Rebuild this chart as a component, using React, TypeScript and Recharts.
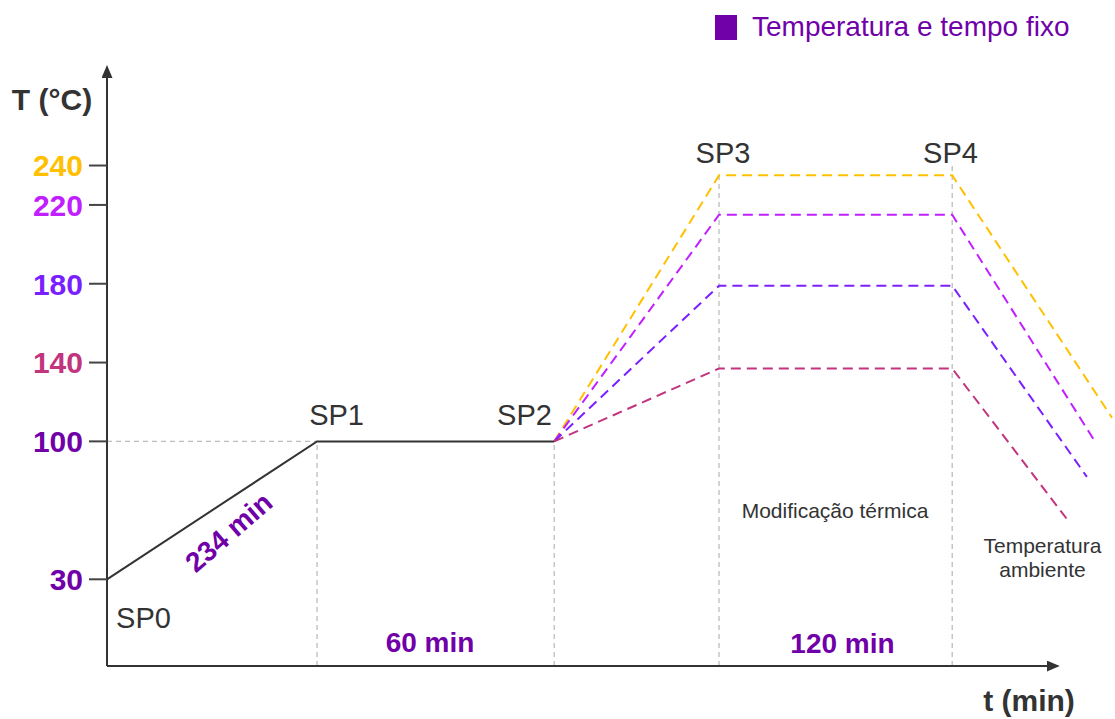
import React from 'react'
import {
  LineChart,
  Line,
  XAxis,
  YAxis,
  ReferenceLine,
  ReferenceDot,
  Legend,
} from 'recharts'

const FONT = '"Liberation Sans", Arial, Helvetica, sans-serif'
const DARK = '#333333'
const FIXED = '#7000A8'

// set-points on the (schematic) time axis
const SP_NAMES = ['SP0', 'SP1', 'SP2', 'SP3', 'SP4']
const SP_X = [0, 20.9, 44.5, 60.9, 84.1]
const BASE_T = [30, 100, 100]

// y axis
const TEMP_TICKS = [30, 100, 140, 180, 220, 240]
const TICK_COLORS = [FIXED, FIXED, '#C2347E', '#7A1FFF', '#C020FF', '#FFC000']

// thermal modification runs (one per target temperature)
const RUN_NAMES = ['240 °C', '220 °C', '180 °C', '140 °C']
const RUN_COLORS = ['#FFC000', '#C020FF', '#7A1FFF', '#C2347E']
const PLATEAU_T = [235, 215, 179, 137]
const END_X = [100, 98.3, 97.5, 95.6]
const END_T = [112, 100, 82, 60]

const baseData = BASE_T.map((t, i) => ({ x: SP_X[i], t }))

const runs = RUN_NAMES.map((name, i) => ({
  name,
  color: RUN_COLORS[i],
  data: [
    { x: SP_X[2], t: BASE_T[2] },
    { x: SP_X[3], t: PLATEAU_T[i] },
    { x: SP_X[4], t: PLATEAU_T[i] },
    { x: END_X[i], t: END_T[i] },
  ],
}))

// text placed in data space (x, t = baseline)
const NOTES = [
  { txt: 'T (°C)', x: -5.47, t: 268.2, fs: 30, fw: 'bold', col: DARK },
  { txt: 't (min)', x: 91.74, t: -36.8, fs: 30, fw: 'bold', col: DARK },
  { txt: SP_NAMES[0], x: 3.63, t: 5.3, fs: 29, fw: 'normal', col: DARK },
  { txt: SP_NAMES[1], x: 22.84, t: 108.3, fs: 29, fw: 'normal', col: DARK },
  { txt: SP_NAMES[2], x: 41.54, t: 108.3, fs: 29, fw: 'normal', col: DARK },
  { txt: SP_NAMES[3], x: 61.29, t: 241.3, fs: 29, fw: 'normal', col: DARK },
  { txt: SP_NAMES[4], x: 83.93, t: 241.3, fs: 29, fw: 'normal', col: DARK },
  { txt: '234 min', x: 12.74, t: 50.2, fs: 28, fw: 'bold', col: FIXED, rot: -41 },
  { txt: '60 min', x: 32.14, t: -6.9, fs: 28, fw: 'bold', col: FIXED },
  { txt: '120 min', x: 73.18, t: -7.4, fs: 28, fw: 'bold', col: FIXED },
  { txt: 'Modificação térmica', x: 72.44, t: 61.1, fs: 21, fw: 'normal', col: DARK },
  { txt: 'Temperatura', x: 93.08, t: 43.35, fs: 21, fw: 'normal', col: DARK },
  { txt: 'ambiente', x: 93.08, t: 31.2, fs: 21, fw: 'normal', col: DARK },
]

const TempTick = ({ x, y, payload, index }: any) => (
  <text
    x={x}
    y={y}
    dy="0.36em"
    textAnchor="end"
    fontFamily={FONT}
    fontSize={30}
    fontWeight="bold"
    fill={TICK_COLORS[index] || DARK}
  >
    {payload.value}
  </text>
)

const NoteLabel = ({ viewBox, txt, fs, fw, col, rot }: any) => {
  const { x, y } = viewBox
  return (
    <text
      x={x}
      y={y}
      textAnchor="middle"
      fontFamily={FONT}
      fontSize={fs}
      fontWeight={fw}
      fill={col}
      transform={rot ? `rotate(${rot} ${x} ${y})` : undefined}
    >
      {txt}
    </text>
  )
}

const LegendBox = () => (
  <div
    style={{
      display: 'flex',
      alignItems: 'center',
      fontFamily: FONT,
      fontSize: 28,
      lineHeight: '32px',
      color: FIXED,
      whiteSpace: 'nowrap',
    }}
  >
    <span
      style={{
        display: 'inline-block',
        width: 22,
        height: 25,
        background: FIXED,
        marginRight: 15,
      }}
    />
    Temperatura e tempo fixo
  </div>
)

const grey = { stroke: '#bdbdbd', strokeWidth: 1.3, strokeDasharray: '5 4' }

export default function App() {
  return (
    <div>
      <style>{'body{margin:0}'}</style>
      <svg width={0} height={0} style={{ position: 'absolute' }}>
        <defs>
          <marker
            id="arrowHead"
            viewBox="0 0 13 11"
            markerWidth={13}
            markerHeight={11}
            refX={11}
            refY={5.5}
            orient="auto-start-reverse"
            markerUnits="userSpaceOnUse"
          >
            <path d="M0,0 L13,5.5 L0,11 z" fill={DARK} />
          </marker>
        </defs>
      </svg>
      <LineChart
        width={1115}
        height={719}
        margin={{ top: 67, right: 3, bottom: 53, left: 0 }}
      >
        <XAxis type="number" dataKey="x" domain={[0, 100]} hide />
        <YAxis
          type="number"
          dataKey="t"
          domain={[-14, 290]}
          ticks={TEMP_TICKS}
          interval={0}
          width={107}
          tickSize={18}
          tickMargin={6}
          tick={<TempTick />}
          tickLine={{ stroke: '#444', strokeWidth: 2 }}
          axisLine={{ stroke: DARK, strokeWidth: 2, markerStart: 'url(#arrowHead)' }}
        />

        {/* guide lines */}
        <ReferenceLine
          segment={[{ x: SP_X[0], y: BASE_T[1] }, { x: SP_X[1], y: BASE_T[1] }]}
          ifOverflow="visible"
          {...grey}
        />
        {[1, 2].map(i => (
          <ReferenceLine
            key={`g${i}`}
            segment={[{ x: SP_X[i], y: -14 }, { x: SP_X[i], y: BASE_T[i] }]}
            ifOverflow="visible"
            {...grey}
          />
        ))}
        <ReferenceLine
          segment={[{ x: SP_X[3], y: -14 }, { x: SP_X[3], y: PLATEAU_T[0] }]}
          ifOverflow="visible"
          {...grey}
        />
        <ReferenceLine
          segment={[{ x: SP_X[4], y: -14 }, { x: SP_X[4], y: 240 }]}
          ifOverflow="visible"
          {...grey}
        />

        {/* time axis */}
        <ReferenceLine
          segment={[{ x: 0, y: -14 }, { x: 94.6, y: -14 }]}
          ifOverflow="visible"
          stroke={DARK}
          strokeWidth={2}
          markerEnd="url(#arrowHead)"
        />

        <Line
          data={baseData}
          dataKey="t"
          stroke={DARK}
          strokeWidth={2}
          dot={false}
          legendType="none"
          isAnimationActive={false}
        />
        {runs.map(r => (
          <Line
            key={r.name}
            name={r.name}
            data={r.data}
            dataKey="t"
            stroke={r.color}
            strokeWidth={2}
            strokeDasharray="10 6"
            dot={false}
            isAnimationActive={false}
          />
        ))}

        {NOTES.map((n, i) => (
          <ReferenceDot
            key={`n${i}`}
            x={n.x}
            y={n.t}
            r={0}
            fill="none"
            stroke="none"
            ifOverflow="visible"
            label={<NoteLabel {...n} />}
          />
        ))}

        <Legend
          layout="horizontal"
          verticalAlign="middle"
          align="center"
          wrapperStyle={{ top: 11, left: 715, width: 'auto', height: 'auto' }}
          content={() => <LegendBox />}
        />
      </LineChart>
    </div>
  )
}
